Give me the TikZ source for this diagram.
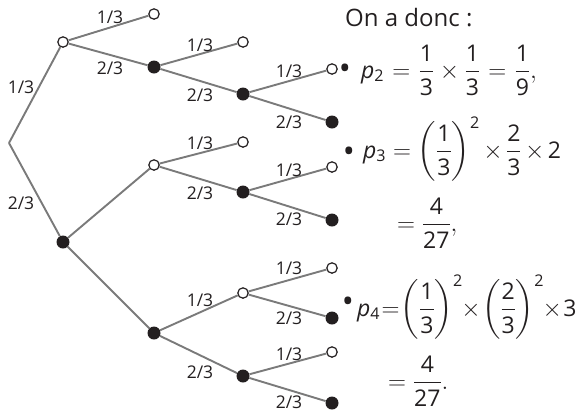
\documentclass[tikz,border=0pt]{standalone}
\usepackage{amsmath}
\usepackage{fontspec}
\setmainfont{Open Sans}
\definecolor{brgray}{RGB}{122,122,122}
\definecolor{nblack}{RGB}{35,31,32}
\newcommand\tn[1]{\text{#1}}
\begin{document}
\begin{tikzpicture}[x=1pt,y=-1pt,
  br/.style={draw=brgray,line width=1.9pt},
  opn/.style={circle,draw=nblack,fill=white,line width=1.2pt,minimum size=10.4pt,inner sep=0pt},
  ful/.style={circle,fill=nblack,minimum size=13pt,inner sep=0pt},
  lab/.style={font=\fontsize{17.5}{20}\selectfont,inner sep=0pt,text=nblack},
  txt/.style={font=\fontsize{23}{27}\selectfont,inner sep=0pt,anchor=base west,text=nblack},
  bul/.style={font=\fontsize{32}{36}\selectfont,inner sep=0pt,text=nblack}]
\useasboundingbox (0,0) rectangle (579,416);
% nodes
\coordinate (R) at (9,143);
\node[opn] (A) at (63,42) {};
\node[opn] (A1) at (154,14) {};
\node[ful] (A2) at (154,67) {};
\node[opn] (A21) at (243,42) {};
\node[ful] (A22) at (243,94) {};
\node[opn] (A221) at (332,69) {};
\node[ful] (A222) at (332,122) {};
\node[ful] (B) at (63,242) {};
\node[opn] (B1) at (154,165) {};
\node[opn] (B11) at (243,142) {};
\node[ful] (B12) at (243,192) {};
\node[opn] (B121) at (332,167) {};
\node[ful] (B122) at (332,220) {};
\node[ful] (B2) at (154,333) {};
\node[opn] (B21) at (243,293) {};
\node[opn] (B211) at (332,268) {};
\node[ful] (B212) at (332,318) {};
\node[ful] (B22) at (243,376) {};
\node[opn] (B221) at (332,352) {};
\node[ful] (B222) at (332,403) {};
% branches
\draw[br] (R) -- (A);
\draw[br] (R) -- (B);
\draw[br] (A) -- (A1);
\draw[br] (A) -- (A2);
\draw[br] (A2) -- (A21);
\draw[br] (A2) -- (A22);
\draw[br] (A22) -- (A221);
\draw[br] (A22) -- (A222);
\draw[br] (B) -- (B1);
\draw[br] (B) -- (B2);
\draw[br] (B1) -- (B11);
\draw[br] (B1) -- (B12);
\draw[br] (B12) -- (B121);
\draw[br] (B12) -- (B122);
\draw[br] (B2) -- (B21);
\draw[br] (B2) -- (B22);
\draw[br] (B21) -- (B211);
\draw[br] (B21) -- (B212);
\draw[br] (B22) -- (B221);
\draw[br] (B22) -- (B222);
% labels
\node[lab] (lRA) at (21,87) {1/3};
\node[lab] (lRB) at (21,203) {2/3};
\node[lab] (lA1) at (110,17) {1/3};
\node[lab] (lA2) at (110,68) {2/3};
\node[lab] (lA21) at (200,45) {1/3};
\node[lab] (lA22) at (200,95) {2/3};
\node[lab] (lA221) at (289,71) {1/3};
\node[lab] (lA222) at (289,122) {2/3};
\node[lab] (lB11) at (200,143) {1/3};
\node[lab] (lB12) at (200,193) {2/3};
\node[lab] (lB121) at (289,170) {1/3};
\node[lab] (lB122) at (289,219) {2/3};
\node[lab] (lB21) at (200,300) {1/3};
\node[lab] (lB22) at (200,372) {2/3};
\node[lab] (lB211) at (289,268) {1/3};
\node[lab] (lB212) at (289,318) {2/3};
\node[lab] (lB221) at (289,354) {1/3};
\node[lab] (lB222) at (289,402) {2/3};
% text
\node[txt,font=\fontsize{24}{28}\selectfont] (t0) at (345,26) {On a donc :};
\node[bul] (b1) at (345,72) {\textbullet};
\node[txt] (t1) at (361,78) {\thickmuskip=6mu\textit{p}$_{\tn{2}}=\dfrac{\tn{1}}{\tn{3}}\times\dfrac{\tn{1}}{\tn{3}}=\dfrac{\tn{1}}{\tn{9}},$};
\node[bul] (b2) at (349,155) {\textbullet};
\node[txt] (t2) at (363,158) {\medmuskip=2.5mu\textit{p}$_{\tn{3}}=\left(\dfrac{\tn{1}}{\tn{3}}\right)^{\tn{2}}\times\dfrac{\tn{2}}{\tn{3}}\times\tn{2}$};
\node[txt] (t3) at (397,231) {$=\dfrac{\tn{4}}{\tn{27}},$};
\node[bul] (b4) at (348,305) {\textbullet};
\node[txt] (t4) at (357,316) {\medmuskip=1mu\thickmuskip=1mu\textit{p}$_{\tn{4}}=\left(\dfrac{\tn{1}}{\tn{3}}\right)^{\tn{2}}\mkern-2mu\times\left(\dfrac{\tn{2}}{\tn{3}}\right)^{\tn{2}}\mkern-2mu\times\tn{3}$};
\node[txt] (t5) at (388,389) {$=\dfrac{\tn{4}}{\tn{27}}.$};
\end{tikzpicture}
\end{document}
